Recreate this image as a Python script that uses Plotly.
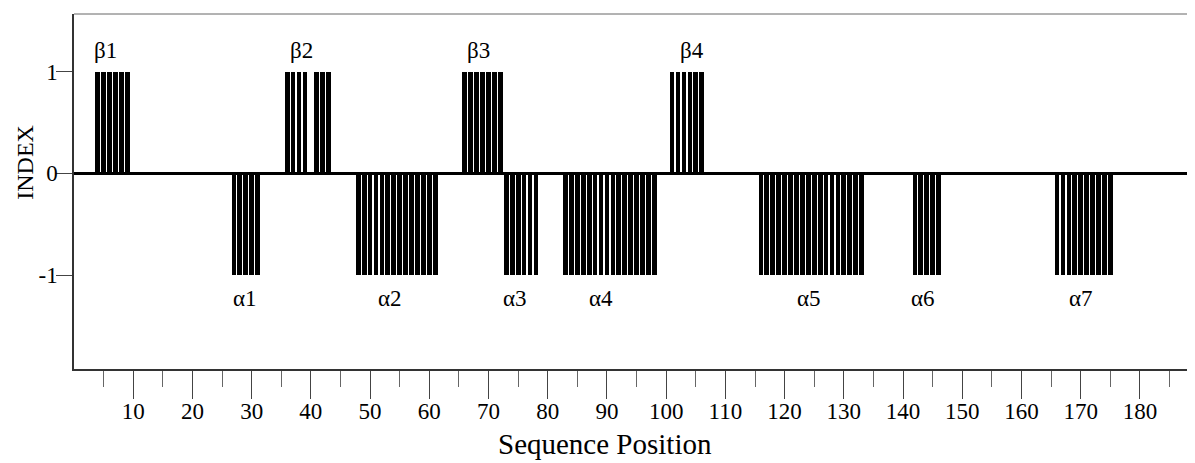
import plotly.graph_objects as go

# Secondary-structure segments (residue positions, inclusive)
strand_names = ["β1", "β2", "β3", "β4"]
strand_starts = [4, 36, 66, 101]
strand_ends = [9, 43, 72, 106]
strand_gaps = [40]          # residue inside β2 with index 0

helix_names = ["α1", "α2", "α3", "α4", "α5", "α6", "α7"]
helix_starts = [27, 48, 73, 83, 116, 142, 166]
helix_ends = [31, 61, 78, 98, 133, 146, 175]

# label anchor positions (sequence position)
strand_label_x = [5.4, 38.4, 68.3, 104.3]
helix_label_x = [28.8, 53.3, 74.4, 89.0, 124.2, 143.4, 170.1]

x_ticks = [10, 20, 30, 40, 50, 60, 70, 80, 90, 100, 110, 120, 130, 140, 150, 160, 170, 180]
x_minor_ticks = [5, 15, 25, 35, 45, 55, 65, 75, 85, 95, 105, 115, 125, 135, 145, 155, 165, 175, 185]
y_ticks = [-1, 0, 1]
y_tick_text = ["-1", "0", "1"]

# per-residue index: +1 strand, -1 helix
positions = []
index = []
for s, e in zip(strand_starts, strand_ends):
    for p in range(s, e + 1):
        if p not in strand_gaps:
            positions.append(p)
            index.append(1)
for s, e in zip(helix_starts, helix_ends):
    for p in range(s, e + 1):
        positions.append(p)
        index.append(-1)

FONT = "Liberation Serif, Times New Roman, serif"

fig = go.Figure()
fig.add_trace(go.Bar(
    x=positions, y=index, width=0.8,
    marker=dict(color="black", line=dict(width=0)),
    showlegend=False, hoverinfo="x+y",
))

annotations = []
for name, lx in zip(strand_names, strand_label_x):
    annotations.append(dict(x=lx, y=1.21, xref="x", yref="y", text=name, showarrow=False,
                            font=dict(family=FONT, size=23, color="black")))
for name, lx in zip(helix_names, helix_label_x):
    annotations.append(dict(x=lx, y=-1.23, xref="x", yref="y", text=name, showarrow=False,
                            font=dict(family=FONT, size=23, color="black")))
annotations.append(dict(x=0.474, y=-0.212, xref="paper", yref="paper", text="Sequence Position",
                        showarrow=False, xanchor="center", yanchor="middle",
                        font=dict(family=FONT, size=29, color="black")))
annotations.append(dict(x=-0.0437, y=0.581, xref="paper", yref="paper", text="INDEX",
                        showarrow=False, textangle=-90, xanchor="center", yanchor="middle",
                        font=dict(family=FONT, size=24, color="black")))

# the page body adds an 8px margin, so the figure is sized to fit the window
fig.update_layout(
    width=1187, height=455,
    margin=dict(l=66, r=0, t=6, b=94),
    paper_bgcolor="white", plot_bgcolor="white",
    font=dict(family=FONT, size=23, color="black"),
    annotations=annotations,
    shapes=[dict(type="line", xref="paper", yref="paper", x0=0, x1=1, y0=1, y1=1,
                 line=dict(color="#666666", width=1))],
    bargap=0,
)
fig.update_xaxes(
    range=[0, 189.3], tickmode="array", tickvals=x_ticks, ticktext=[str(v) for v in x_ticks],
    ticks="outside", ticklen=28, tickwidth=1, tickcolor="#444444",
    ticklabelstandoff=-7,
    showline=True, linecolor="#333333", linewidth=1.5,
    showgrid=False, zeroline=False,
    minor=dict(tickmode="array", tickvals=x_minor_ticks, ticks="outside", ticklen=16,
               tickwidth=1, tickcolor="#666666", showgrid=False),
    tickfont=dict(family=FONT, size=23, color="black"),
)
fig.update_yaxes(
    range=[-1.923, 1.567], tickvals=y_ticks, ticktext=y_tick_text,
    ticks="outside", ticklen=16, tickwidth=1, tickcolor="#444444",
    ticklabelstandoff=-6,
    showline=True, linecolor="#333333", linewidth=1.5,
    showgrid=False, zeroline=True, zerolinecolor="black", zerolinewidth=2.5,
    tickfont=dict(family=FONT, size=23, color="black"),
)

fig.write_html("out.html")
